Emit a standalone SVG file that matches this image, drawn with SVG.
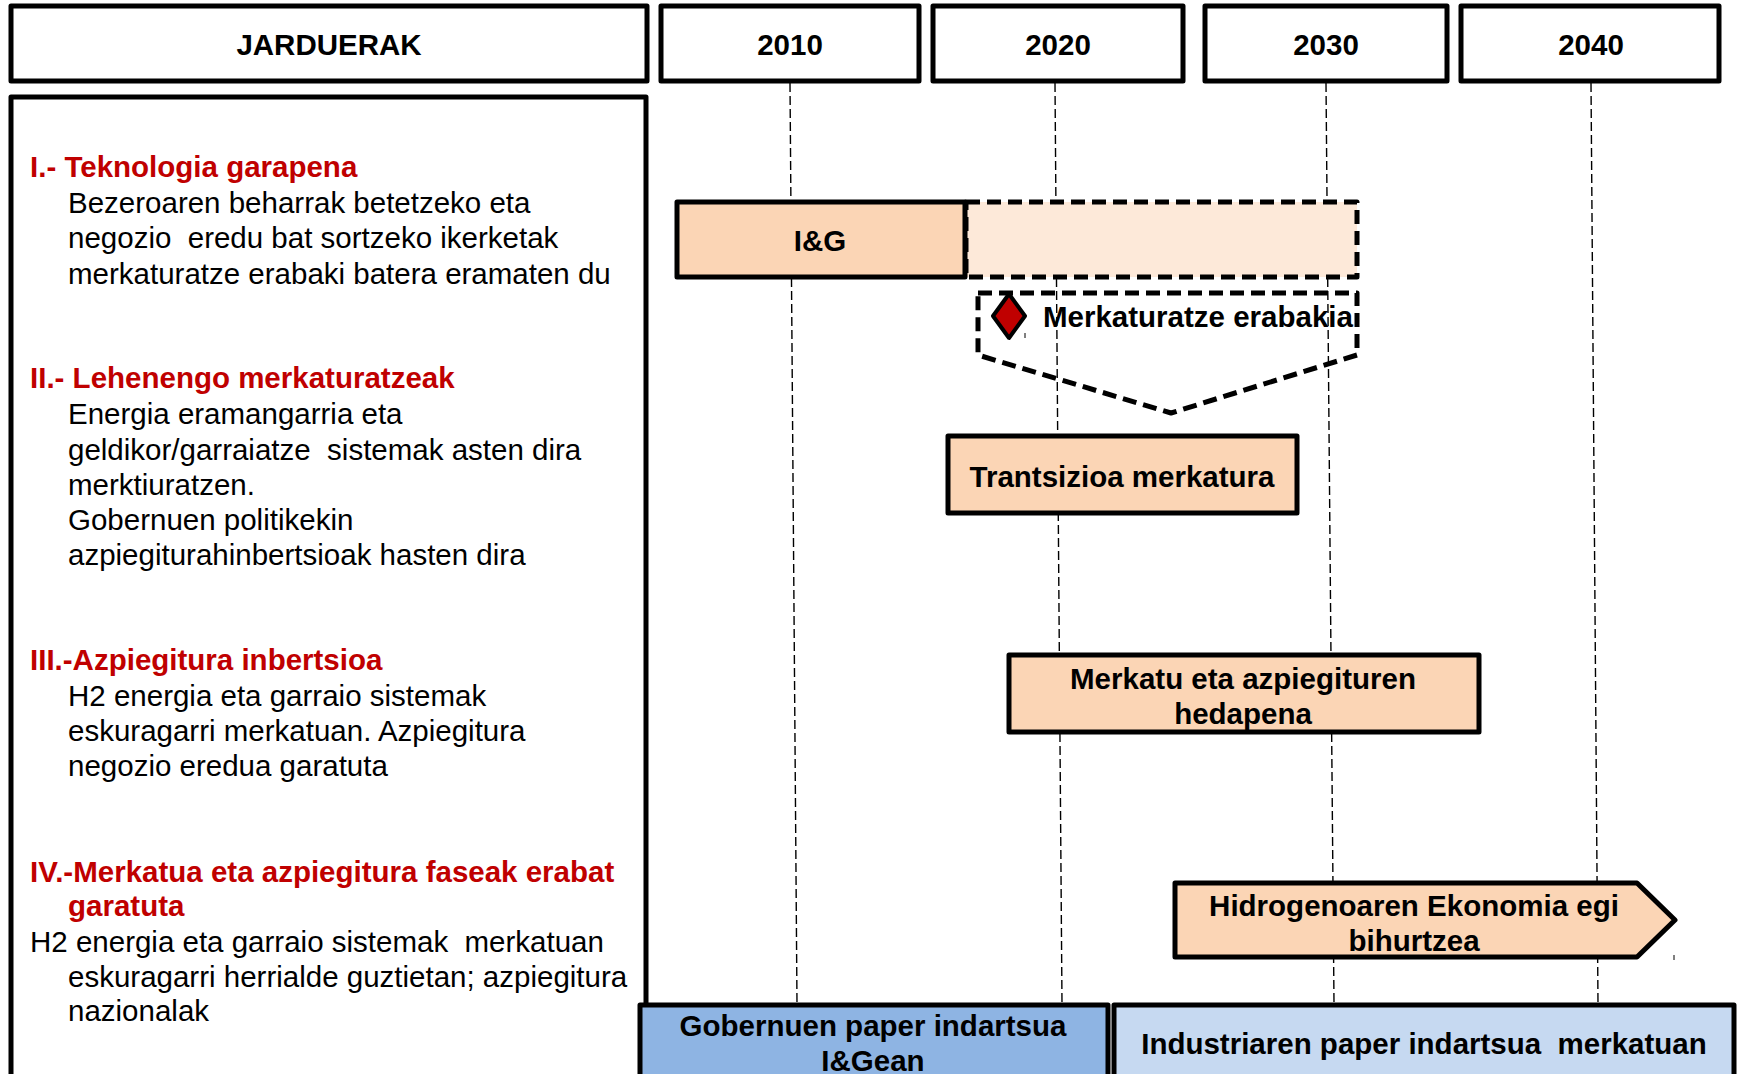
<svg xmlns="http://www.w3.org/2000/svg" width="1737" height="1074" viewBox="0 0 1737 1074">
<style>
text{font-family:"Liberation Sans",Arial,sans-serif;font-size:29.5px;fill:#000;white-space:pre}
.b{font-weight:bold}
.t{font-weight:bold;fill:#C00000}
.c{text-anchor:middle;font-weight:bold}
.box{stroke:#000;stroke-width:5;stroke-linejoin:round}
.vl{stroke:#000;stroke-width:1.4;stroke-dasharray:9 4;fill:none}
.dsh{stroke:#000;stroke-width:5;stroke-dasharray:14 7;stroke-linejoin:round}
</style>
<rect width="1737" height="1074" fill="#fff"/>
<g id="gridlines">
<line class="vl" x1="790" y1="83" x2="797" y2="1004"/>
<line class="vl" x1="1055" y1="83" x2="1062" y2="1004"/>
<line class="vl" x1="1326" y1="83" x2="1334" y2="1004"/>
<line class="vl" x1="1591" y1="83" x2="1598" y2="1004"/>
</g>
<g id="h-jarduerak"><rect class="box" x="11" y="6" width="636" height="75" fill="#fff"/><text class="c" x="329" y="55">JARDUERAK</text></g>
<g id="h-2010"><rect class="box" x="661" y="6" width="258" height="75" fill="#fff"/><text class="c" x="790" y="55">2010</text></g>
<g id="h-2020"><rect class="box" x="933" y="6" width="250" height="75" fill="#fff"/><text class="c" x="1058" y="55">2020</text></g>
<g id="h-2030"><rect class="box" x="1205" y="6" width="242" height="75" fill="#fff"/><text class="c" x="1326" y="55">2030</text></g>
<g id="h-2040"><rect class="box" x="1461" y="6" width="258" height="75" fill="#fff"/><text class="c" x="1591" y="55">2040</text></g>
<g id="jarduerak-list">
<rect class="box" x="11" y="97" width="635" height="1000" fill="none"/>
<text class="t" x="30" y="177">I.- Teknologia garapena</text>
<text x="68" y="213">Bezeroaren beharrak betetzeko eta</text>
<text x="68" y="248">negozio  eredu bat sortzeko ikerketak</text>
<text x="68" y="284">merkaturatze erabaki batera eramaten du</text>
<text class="t" x="30" y="388">II.- Lehenengo merkaturatzeak</text>
<text x="68" y="424">Energia eramangarria eta</text>
<text x="68" y="460">geldikor/garraiatze  sistemak asten dira</text>
<text x="68" y="495">merktiuratzen.</text>
<text x="68" y="530">Gobernuen politikekin</text>
<text x="68" y="565">azpiegiturahinbertsioak hasten dira</text>
<text class="t" x="30" y="670">III.-Azpiegitura inbertsioa</text>
<text x="68" y="706">H2 energia eta garraio sistemak</text>
<text x="68" y="741">eskuragarri merkatuan. Azpiegitura</text>
<text x="68" y="776">negozio eredua garatuta</text>
<text class="t" x="30" y="882">IV.-Merkatua eta azpiegitura faseak erabat</text>
<text class="t" x="68" y="916">garatuta</text>
<text x="30" y="952">H2 energia eta garraio sistemak  merkatuan</text>
<text x="68" y="987">eskuragarri herrialde guztietan; azpiegitura</text>
<text x="68" y="1021">nazionalak</text>
</g>
<g id="ig-extension"><rect class="dsh" x="966" y="202" width="391" height="75" fill="#FDE9D9"/></g>
<g id="ig"><rect class="box" x="677" y="202" width="288" height="75" fill="#FBD5B5"/><text class="c" x="820" y="251">I&amp;G</text></g>
<g id="merkaturatze-erabakia">
<path class="dsh" d="M978,293 H1357 V355 L1171,413 L978,355 Z" fill="none"/>
<path d="M1009,294 L1025,316 L1009,338 L993,316 Z" fill="#C00000" stroke="#000" stroke-width="4" stroke-linejoin="round"/>
<line x1="1025" y1="333" x2="1025" y2="338" stroke="#000" stroke-width="1"/>
<text class="b" x="1043" y="327">Merkaturatze erabakia</text>
</g>
<g id="trantsizioa"><rect class="box" x="948" y="436" width="349" height="77" fill="#FBD5B5"/><text class="c" x="1122" y="487">Trantsizioa merkatura</text></g>
<g id="hedapena"><rect class="box" x="1009" y="655" width="470" height="77" fill="#FBD5B5"/><text class="c" x="1243" y="689">Merkatu eta azpiegituren</text><text class="c" x="1243" y="724">hedapena</text></g>
<g id="hidrogenoa">
<path class="box" d="M1175,883 H1637 L1675,920 L1637,957 H1175 Z" fill="#FBD5B5"/>
<line x1="1674" y1="955" x2="1674" y2="960" stroke="#000" stroke-width="1"/>
<text class="c" x="1414" y="916">Hidrogenoaren Ekonomia egi</text><text class="c" x="1414" y="951">bihurtzea</text>
</g>
<g id="gobernuen"><rect class="box" x="640" y="1005" width="468" height="100" fill="#8EB4E3"/><text class="c" x="873" y="1036">Gobernuen paper indartsua</text><text class="c" x="873" y="1071">I&amp;Gean</text></g>
<g id="industriaren"><rect class="box" x="1114" y="1005" width="620" height="100" fill="#C6D9F1"/><text class="c" x="1424" y="1054">Industriaren paper indartsua  merkatuan</text></g>
<g id="connectors"/>
</svg>
